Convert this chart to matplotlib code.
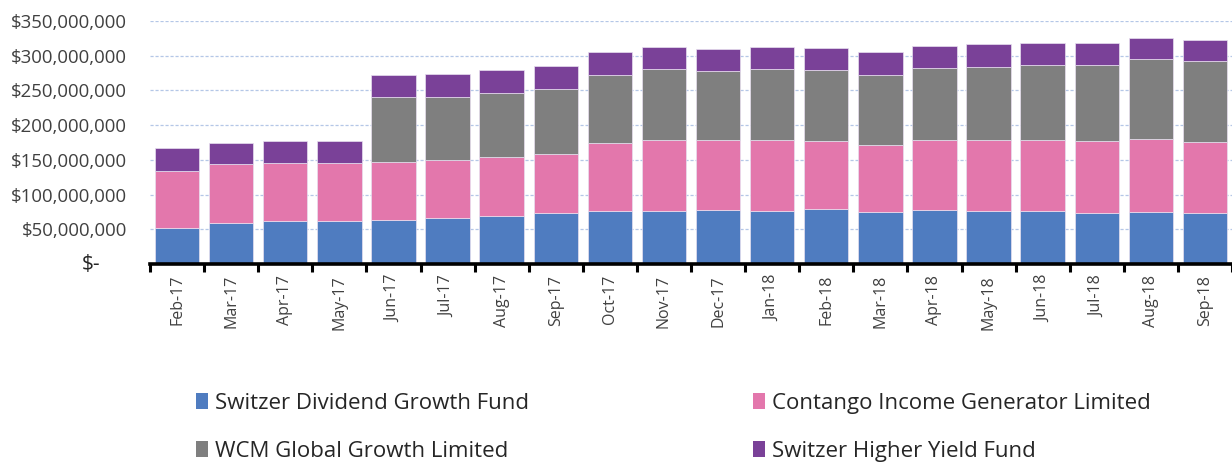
import numpy as np
import matplotlib.pyplot as plt
from matplotlib.ticker import FuncFormatter, MultipleLocator
from matplotlib.patches import Patch

plt.rcParams['font.family'] = ['Open Sans', 'DejaVu Sans']

months = ["Feb-17", "Mar-17", "Apr-17", "May-17", "Jun-17", "Jul-17", "Aug-17",
          "Sep-17", "Oct-17", "Nov-17", "Dec-17", "Jan-18", "Feb-18", "Mar-18",
          "Apr-18", "May-18", "Jun-18", "Jul-18", "Aug-18", "Sep-18"]

# values in $ millions
switzer_dividend = [51.4, 59.5, 61.5, 62.4, 63.4, 65.8, 69.2, 73.0, 75.9, 75.9,
                    77.8, 76.8, 78.8, 74.9, 77.8, 76.4, 76.4, 73.9, 74.9, 73.5]
contango = [83.0, 84.2, 84.0, 83.1, 84.0, 83.6, 85.0, 85.1, 98.0, 102.8,
            100.9, 101.9, 98.9, 96.6, 100.4, 101.8, 101.8, 102.9, 105.2, 102.3]
wcm = [0, 0, 0, 0, 93.6, 90.8, 92.6, 94.1, 98.9, 101.8,
       99.4, 101.8, 101.8, 101.3, 103.8, 105.7, 108.1, 109.5, 114.8, 116.7]
switzer_higher = [32.3, 31.1, 31.7, 31.7, 31.8, 33.1, 32.3, 33.1, 33.1, 32.6,
                  32.1, 32.6, 32.2, 32.2, 32.1, 32.6, 32.1, 32.1, 30.2, 30.7]

names = ["Switzer Dividend Growth Fund", "Contango Income Generator Limited",
         "WCM Global Growth Limited", "Switzer Higher Yield Fund"]
colors = ["#4F7CC0", "#E377AC", "#7F7F7F", "#7A4198"]

series = [np.array(s) * 1e6 for s in (switzer_dividend, contango, wcm, switzer_higher)]

fig = plt.figure(figsize=(12.32, 4.62), dpi=100)
ax = fig.add_axes([150 / 1232, 1 - 264 / 462, 1082 / 1232, 243 / 462])

x = np.arange(len(months))
bottom = np.zeros(len(months))
for s, c in zip(series, colors):
    ax.bar(x, s, 0.82, bottom=bottom, color=c, edgecolor="#e8e0f0", linewidth=0.5, zorder=3)
    bottom += s

ax.set_xlim(-0.5, 19.19)
ax.set_ylim(0, 350e6)
ax.yaxis.set_major_locator(MultipleLocator(50e6))
ax.yaxis.set_major_formatter(FuncFormatter(
    lambda v, p: "" if v == 0 else "${:,.0f}".format(v)))
ax.grid(axis="y", color="#B4C7E7", linestyle=(0, (2.5, 1.5)), linewidth=0.9, zorder=0)
ax.tick_params(axis="y", length=0, labelsize=13.4, labelcolor="#404040", pad=16.5)
# accounting-style zero label
ax.annotate("$-", xy=(0, 0), xycoords=ax.get_yaxis_transform(), xytext=(-36, 0),
            textcoords="offset points", ha="right", va="center", fontsize=15,
            color="#262626")

# boundary ticks and centred labels
ax.set_xticks(np.arange(len(months) + 1) - 0.5)
ax.set_xticklabels([])
ax.set_xticks(x, minor=True)
ax.set_xticklabels(months, minor=True, rotation=90, fontsize=11.5, color="#404040")
ax.tick_params(axis="x", which="major", length=6, width=2.2, color="black", direction="out")
ax.tick_params(axis="x", which="minor", length=0, pad=8)

for side in ("top", "right", "left"):
    ax.spines[side].set_visible(False)
ax.spines["bottom"].set_linewidth(2.6)
ax.spines["bottom"].set_zorder(4)

handles = [Patch(facecolor=c, edgecolor="none") for c in colors]
leg_kw = dict(frameon=False, handlelength=0.55, handleheight=0.75,
              handletextpad=0.3, labelspacing=1.2, loc="upper left",
              prop={'family': ['Open Sans', 'DejaVu Sans'], 'size': 16})
l1 = fig.legend([handles[0], handles[2]], [names[0], names[2]],
                bbox_to_anchor=(176 / 1232, 1 - 373 / 462), **leg_kw)
l2 = fig.legend([handles[1], handles[3]], [names[1], names[3]],
                bbox_to_anchor=(733 / 1232, 1 - 373 / 462), **leg_kw)
for leg in (l1, l2):
    for t in leg.get_texts():
        t.set_color("#262626")

fig.savefig("out.png", dpi=100)
